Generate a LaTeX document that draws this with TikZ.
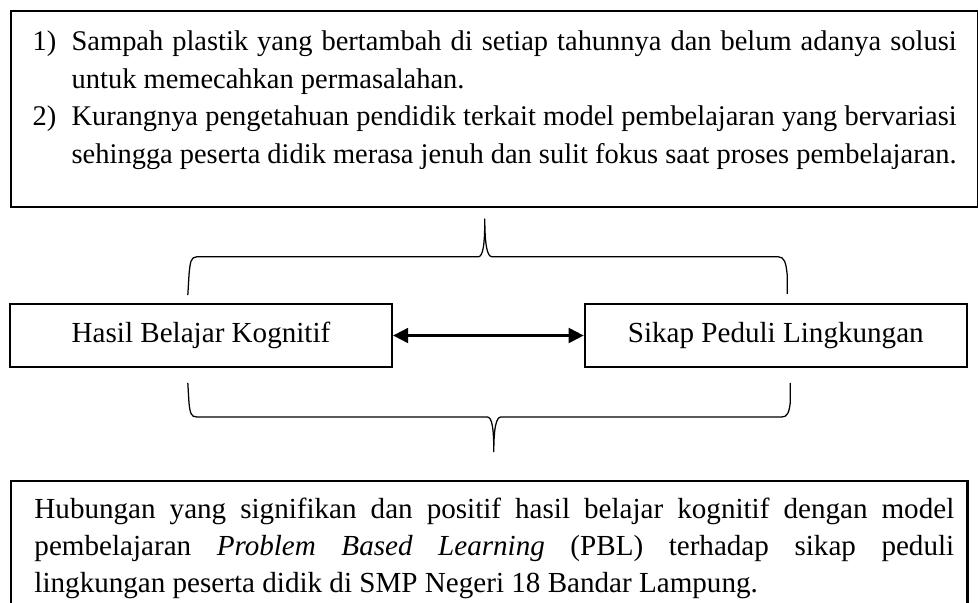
\documentclass[tikz,border=0pt]{standalone}
\usepackage{fontspec}
\setmainfont{Liberation Serif}
\usepackage{tikz}
\usetikzlibrary{positioning,calc,arrows.meta}
\setlength{\parindent}{0pt}

\begin{document}
\begin{tikzpicture}[
    var/.style={draw, line width=1pt, minimum width=6.37cm, minimum height=1.05cm, font=\fontsize{13.8}{18}\selectfont, align=center},
    textbox/.style={draw, line width=1pt, anchor=north west, align=justify, inner ysep=0pt},
    arrow/.style={{Triangle[length=0.25cm,width=0.25cm]}-{Triangle[length=0.25cm,width=0.25cm]}, line width=1pt},
    brace/.style={line width=0.6pt, line join=round}
]
\useasboundingbox (0,0) rectangle (16.3,10.05);

\node[textbox, inner xsep=0.36cm, text width=15.4cm, font=\fontsize{13.5}{18}\selectfont] (masalah) at (0.167,9.883) {%
\rule{0pt}{0.65cm}\makebox[0.65cm][l]{1)}\hangindent=0.65cm\hangafter=1 Sampah plastik yang bertambah di setiap tahunnya dan belum adanya solusi\linebreak untuk memecahkan permasalahan.\par
\makebox[0.65cm][l]{2)}\hangindent=0.65cm\hangafter=1 Kurangnya pengetahuan pendidik terkait model pembelajaran yang bervariasi\linebreak sehingga peserta didik merasa jenuh dan sulit fokus saat proses pembelajaran.\rule[-0.72cm]{0pt}{0pt}\parfillskip=0pt\par};

\node[var] (hasil) at (3.35,4.458) {Hasil Belajar Kognitif};
\node[var] (sikap) at (12.93,4.458) {Sikap Peduli Lingkungan};
\draw[arrow] (hasil) -- (sikap);

\draw[brace] (3.13,5.13) -- (3.15,5.47) .. controls (3.17,5.68) and (3.18,5.77) .. (3.28,5.77) -- (7.97,5.77) .. controls (8.05,5.77) and (8.08,5.97) .. (8.08,6.40) .. controls (8.08,5.97) and (8.12,5.77) .. (8.20,5.77) -- (12.97,5.77) .. controls (13.07,5.77) and (13.10,5.68) .. (13.12,5.47) -- (13.12,5.15);
\draw[brace] (3.13,3.67) -- (3.15,3.33) .. controls (3.17,3.17) and (3.18,3.10) .. (3.28,3.10) -- (8.12,3.10) .. controls (8.20,3.10) and (8.23,2.92) .. (8.23,2.52) .. controls (8.23,2.92) and (8.27,3.10) .. (8.35,3.10) -- (13.03,3.10) .. controls (13.12,3.10) and (13.15,3.17) .. (13.17,3.33) -- (13.17,3.67);

\node[textbox, inner xsep=0.22cm, text width=15.5cm, font=\fontsize{13.8}{17.5}\selectfont] (hubungan) at (0.167,2.05) {%
\leftskip=0.17cm\rule{0pt}{0.63cm}Hubungan yang signifikan dan positif hasil belajar kognitif dengan model\linebreak pembelajaran \textit{Problem Based Learning} (PBL) terhadap sikap peduli\linebreak lingkungan peserta didik di SMP Negeri 18 Bandar Lampung.\rule[-0.5cm]{0pt}{0pt}\par};
\end{tikzpicture}
\end{document}
